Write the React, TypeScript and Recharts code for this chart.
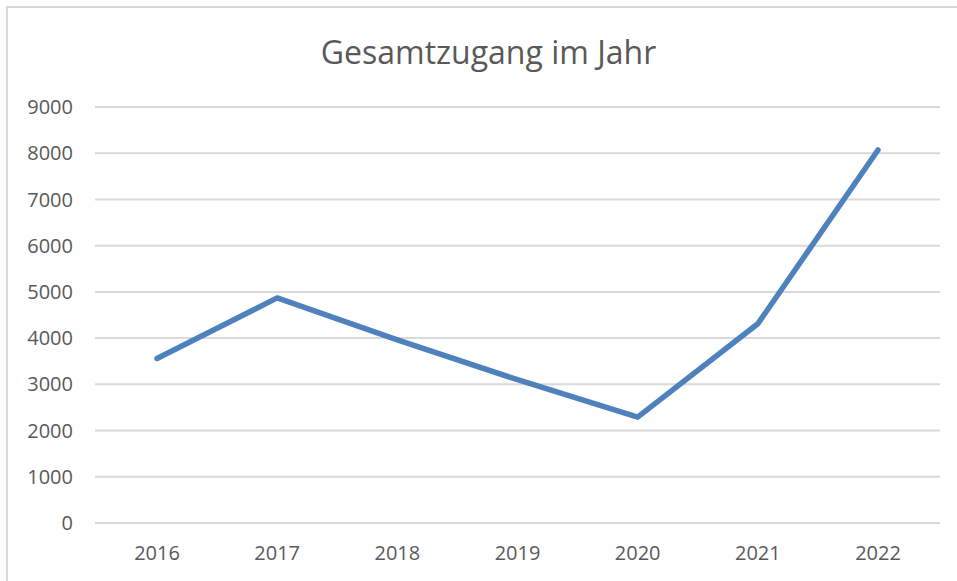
import React from 'react';
import { LineChart, Line, CartesianGrid, XAxis, YAxis } from 'recharts';

const years = ['2016', '2017', '2018', '2019', '2020', '2021', '2022'];
const zugang = [3560, 4870, 3960, 3100, 2290, 4310, 8070];
const yTicks = [0, 1000, 2000, 3000, 4000, 5000, 6000, 7000, 8000, 9000];

const data = years.map((year, i) => ({ year, zugang: zugang[i] }));

const textColor = '#595959';
const font = '"Open Sans", "Liberation Sans", sans-serif';

export default function App() {
  return (
    <div style={{ position: 'absolute', left: 0, top: 0, width: 957, height: 581, background: '#fff', overflow: 'hidden' }}>
      <div
        style={{
          position: 'absolute', left: 6, top: 6, width: 1000, height: 700,
          borderLeft: '2px solid #d9d9d9', borderTop: '2px solid #d9d9d9',
        }}
      />
      <div
        style={{
          position: 'absolute', left: 0, top: 30, width: 977, textAlign: 'center',
          fontFamily: font, fontSize: 32, color: textColor, lineHeight: '44px',
        }}
      >
        Gesamtzugang im Jahr
      </div>
      <div style={{ position: 'absolute', left: 0, top: 0 }}>
        <LineChart
          width={957}
          height={581}
          data={data}
          margin={{ top: 107, right: 17, bottom: 0, left: 0 }}
        >
          <CartesianGrid horizontal vertical={false} stroke="#d9d9d9" strokeWidth={2} />
          <XAxis
            dataKey="year"
            height={58}
            axisLine={false}
            tickLine={false}
            tickMargin={17}
            padding={{ left: 62, right: 62 }}
            tick={{ fill: textColor, fontSize: 20, fontFamily: font }}
          />
          <YAxis
            width={95}
            domain={[0, 9000]}
            ticks={yTicks}
            axisLine={false}
            tickLine={false}
            tickMargin={16}
            tick={{ fill: textColor, fontSize: 20, fontFamily: font }}
          />
          <Line
            type="linear"
            dataKey="zugang"
            stroke="#4f81bd"
            strokeWidth={5.5}
            strokeLinecap="round"
            strokeLinejoin="round"
            dot={false}
            activeDot={false}
            isAnimationActive={false}
          />
        </LineChart>
      </div>
    </div>
  );
}
